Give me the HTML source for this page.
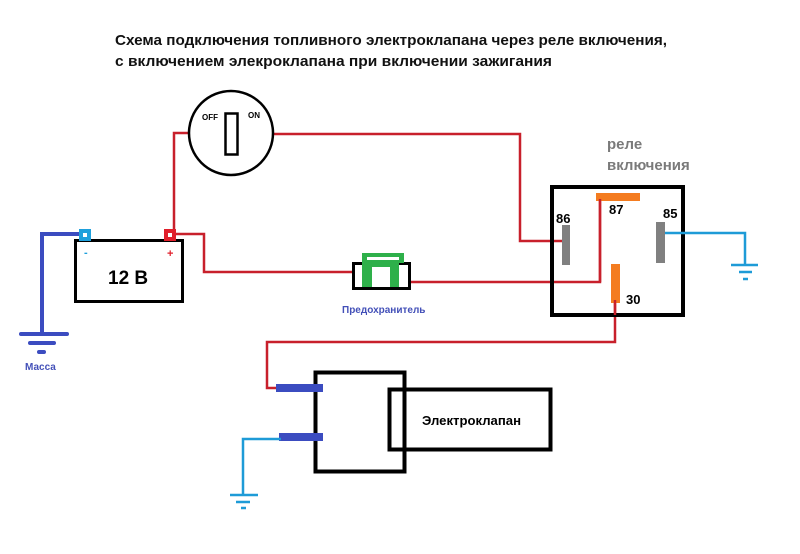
<!DOCTYPE html>
<html><head><meta charset="utf-8"><style>
html,body{margin:0;padding:0;background:#fff}
svg{display:block}
text{font-family:"Liberation Sans","DejaVu Sans",sans-serif;font-weight:bold}
</style></head><body>
<svg width="800" height="554" viewBox="0 0 800 554" xmlns="http://www.w3.org/2000/svg">
<rect width="800" height="554" fill="#fff"/>
<text x="115" y="45" font-size="15" textLength="552" lengthAdjust="spacingAndGlyphs" fill="#111">Схема подключения топливного электроклапана через реле включения,</text>
<text x="115" y="66" font-size="15" textLength="437" lengthAdjust="spacingAndGlyphs" fill="#111">с включением элекроклапана при включении зажигания</text>

<g fill="none" stroke="#c8202b" stroke-width="2.5">
<polyline points="189,133 174,133 174,232"/>
<polyline points="176,234 204,234 204,272 352,272"/>
<polyline points="410,282 600,282 600,199"/>
<polyline points="274,134 520,134 520,241 566,241"/>
<polyline points="615,303 615,342 267,342 267,388 278,388"/>
</g>

<circle cx="231" cy="133" r="42" fill="none" stroke="#000" stroke-width="2.5"/>
<rect x="225.5" y="113.5" width="12" height="41" fill="none" stroke="#000" stroke-width="2.5"/>
<text x="202" y="120" font-size="8">OFF</text>
<text x="248" y="118" font-size="8">ON</text>

<polyline points="80,234 42,234 42,334" fill="none" stroke="#3b4cc0" stroke-width="4"/>
<g stroke="#3b4cc0" stroke-width="4" stroke-linecap="round">
<line x1="21" y1="334" x2="67" y2="334"/><line x1="30" y1="343" x2="54" y2="343"/><line x1="39" y1="352" x2="44" y2="352"/>
</g>
<text x="25" y="370" font-size="10" fill="#4350b8">Масса</text>
<rect x="75.5" y="240.5" width="107" height="61" fill="#fff" stroke="#000" stroke-width="3"/>
<rect x="79" y="229" width="12" height="12" fill="#1ea0dc"/><rect x="83" y="233" width="4" height="4" fill="#fff"/>
<rect x="164" y="229" width="12" height="12" fill="#e01f2b"/><rect x="168" y="233" width="4" height="4" fill="#fff"/>
<text x="84" y="256" font-size="11" fill="#1ea0dc">-</text>
<text x="167" y="257" font-size="11" fill="#e01f2b">+</text>
<text x="108" y="284" font-size="19" fill="#000">12 В</text>

<rect x="353.5" y="263.5" width="56" height="25" fill="#fff" stroke="#000" stroke-width="3"/>
<rect x="362" y="253" width="42" height="10" fill="#2eb04a"/>
<rect x="367" y="257" width="32" height="3" fill="#fff"/>
<rect x="362" y="262" width="10" height="25" fill="#2eb04a"/>
<rect x="390" y="262" width="9" height="25" fill="#2eb04a"/>
<rect x="372" y="263" width="18" height="4" fill="#2eb04a"/>
<text x="342" y="313" font-size="10" fill="#4350b8">Предохранитель</text>

<text x="607" y="149" font-size="15" fill="#7a7a7a">реле</text>
<text x="607" y="170" font-size="15" fill="#7a7a7a">включения</text>
<rect x="552" y="187" width="131" height="128" fill="none" stroke="#000" stroke-width="4"/>
<rect x="596" y="193" width="44" height="8" fill="#f47c20"/>
<rect x="562" y="225" width="8" height="40" fill="#808080"/>
<rect x="656" y="222" width="9" height="41" fill="#808080"/>
<rect x="611" y="264" width="9" height="39" fill="#f47c20"/>
<line x1="600" y1="199" x2="600" y2="282" stroke="#c8202b" stroke-width="2.5"/>
<line x1="615" y1="300" x2="615" y2="315" stroke="#c8202b" stroke-width="2.5"/>
<text x="556" y="223" font-size="13" fill="#000">86</text>
<text x="609" y="214" font-size="13" fill="#000">87</text>
<text x="663" y="218" font-size="13" fill="#000">85</text>
<text x="626" y="304" font-size="13" fill="#000">30</text>
<polyline points="665,233 745,233 745,265" fill="none" stroke="#1e9bd7" stroke-width="2.5"/>
<g stroke="#1e9bd7" stroke-width="2.5">
<line x1="731" y1="265" x2="758" y2="265"/><line x1="739" y1="272" x2="752" y2="272"/><line x1="743" y1="279" x2="748" y2="279"/>
</g>

<rect x="315.5" y="372.5" width="89" height="99" fill="none" stroke="#000" stroke-width="4"/>
<rect x="389.5" y="389.5" width="161" height="60" fill="none" stroke="#000" stroke-width="4"/>
<text x="422" y="425" font-size="13" textLength="99" lengthAdjust="spacingAndGlyphs" fill="#000">Электроклапан</text>
<rect x="276" y="384" width="47" height="8" fill="#3b4cc0"/>
<rect x="279" y="433" width="44" height="8" fill="#3b4cc0"/>
<polyline points="281,439 243,439 243,495" fill="none" stroke="#1e9bd7" stroke-width="2.5"/>
<g stroke="#1e9bd7" stroke-width="2.5">
<line x1="230" y1="495" x2="258" y2="495"/><line x1="236" y1="502" x2="250" y2="502"/><line x1="241" y1="508" x2="246" y2="508"/>
</g>
</svg>
</body></html>
